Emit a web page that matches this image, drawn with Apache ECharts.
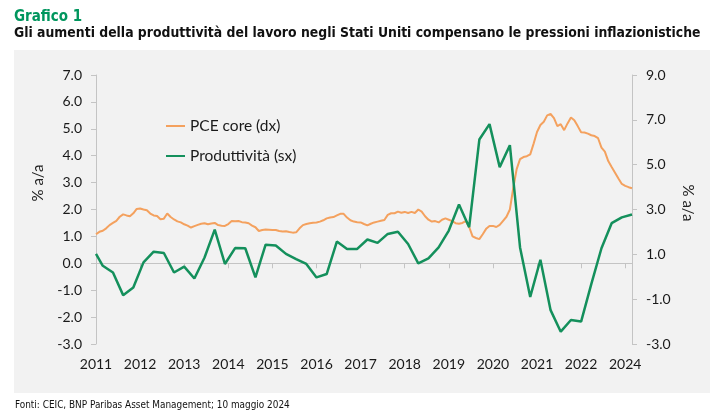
<!DOCTYPE html>
<html>
<head>
<meta charset="utf-8">
<script src="https://cdn.jsdelivr.net/npm/echarts@6/dist/echarts.min.js"></script>
<style>
  html, body { margin: 0; padding: 0; background: #fff; }
  #chart { width: 725px; height: 418px; }
</style>
</head>
<body>
<div id="chart"></div>
<script>
// monthly categories Jan 2011 - Mar 2024
var months = []
for (var y = 2011; y <= 2024; y++) {
    for (var m = 1; m <= 12; m++) {
        if (y === 2024 && m > 3) break
        months.push(y + '-' + (m < 10 ? '0' + m : m))
    }
}

// PCE core, % a/a (left axis)
var pceCore = [
    1.08, 1.17, 1.21, 1.30, 1.42, 1.50, 1.58, 1.73, 1.82, 1.78, 1.75, 1.86,
    2.02, 2.04, 2.00, 1.97, 1.85, 1.78, 1.76, 1.64, 1.66, 1.85, 1.72, 1.63,
    1.56, 1.52, 1.45, 1.40, 1.33, 1.38, 1.43, 1.47, 1.49, 1.45, 1.48, 1.50,
    1.42, 1.40, 1.39, 1.46, 1.57, 1.56, 1.57, 1.53, 1.52, 1.49, 1.40, 1.34,
    1.20, 1.24, 1.26, 1.25, 1.24, 1.24, 1.20, 1.18, 1.19, 1.16, 1.14, 1.15,
    1.30, 1.42, 1.46, 1.49, 1.51, 1.52, 1.55, 1.60, 1.67, 1.70, 1.72, 1.78,
    1.84, 1.84, 1.70, 1.60, 1.55, 1.53, 1.52, 1.46, 1.41, 1.47, 1.52, 1.55,
    1.58, 1.61, 1.80, 1.86, 1.86, 1.92, 1.88, 1.91, 1.87, 1.91, 1.87, 2.00,
    1.92, 1.75, 1.62, 1.55, 1.57, 1.52, 1.62, 1.67, 1.62, 1.57, 1.49, 1.47,
    1.50, 1.57, 1.35, 1.00, 0.94, 0.90, 1.08, 1.28, 1.39, 1.39, 1.35, 1.43,
    1.58, 1.73, 2.00, 2.80, 3.50, 3.87, 3.95, 3.98, 4.05, 4.45, 4.88, 5.14,
    5.26, 5.50, 5.55, 5.40, 5.10, 5.17, 4.95, 5.20, 5.42, 5.32, 5.10, 4.87,
    4.86, 4.82, 4.76, 4.73, 4.65, 4.30, 4.15, 3.80, 3.58, 3.37, 3.15, 2.95,
    2.88, 2.83, 2.79
]

// Produttivita', % a/a (right axis), quarterly
var prodMonths = ['2011-01']
for (var q = 2; q < months.length; q += 3) prodMonths.push(months[q])
var prodValues = [
    1.02, 0.49, 0.19, -0.82, -0.48, 0.64, 1.12, 1.06, 0.19, 0.45, -0.08, 0.86,
    2.10, 0.57, 1.28, 1.27, -0.03, 1.43, 1.39, 1.02, 0.79, 0.57, -0.03, 0.12,
    1.57, 1.24, 1.24, 1.66, 1.51, 1.91, 2.01, 1.46, 0.60, 0.82, 1.31, 2.06,
    3.22, 2.21, 6.12, 6.81, 4.89, 5.87, 1.31, -0.90, 0.76, -1.49, -2.45, -1.93,
    -2.00, -0.33, 1.27, 2.39, 2.65, 2.78
]

var labelFont = 'Lato, "Noto Sans", sans-serif'
var titleFont = '"Liberation Sans Narrow", "DejaVu Sans Condensed", sans-serif'
var axisGray = '#c4c4c4'

var myChart = echarts.init(document.getElementById('chart'))
var option = {
    backgroundColor: '#ffffff',
    animation: false,
    graphic: [
        { type: 'rect', z: -10, shape: { x: 14, y: 50, width: 696, height: 343 }, style: { fill: '#f2f2f2' } },
        { type: 'text', x: 14, y: 17, style: { text: 'Grafico 1', font: 'bold 15px ' + titleFont, fill: '#00965e', verticalAlign: 'middle' } },
        { type: 'text', x: 14, y: 33, scaleX: 0.955, style: { text: 'Gli aumenti della produttività del lavoro negli Stati Uniti compensano le pressioni inflazionistiche', font: 'bold 14.5px ' + titleFont, fill: '#111', verticalAlign: 'middle' } },
        { type: 'text', x: 15, y: 405, scaleX: 0.9, style: { text: 'Fonti: CEIC, BNP Paribas Asset Management; 10 maggio 2024', font: '11px ' + titleFont, fill: '#111', verticalAlign: 'middle' } },
        { type: 'text', x: 38, y: 183, rotation: Math.PI / 2, style: { text: '% a/a', font: '15px ' + labelFont, fill: '#222', align: 'center', verticalAlign: 'middle' } },
        { type: 'text', x: 688, y: 203, rotation: -Math.PI / 2, style: { text: '% a/a', font: '15px ' + labelFont, fill: '#222', align: 'center', verticalAlign: 'middle' } }
    ],
    legend: {
        orient: 'vertical',
        left: 161,
        top: 113,
        itemWidth: 19,
        itemHeight: 2,
        itemGap: 14,
        icon: 'rect',
        textStyle: { fontFamily: labelFont, fontSize: 15.5, color: '#1a1a1a', lineHeight: 16 },
        data: ['PCE core (dx)', 'Produttività (sx)']
    },
    grid: { left: 96, right: 93, top: 75, bottom: 74 },
    xAxis: {
        type: 'category',
        data: months,
        boundaryGap: false,
        axisLine: { lineStyle: { color: axisGray } },
        axisTick: { interval: 12, length: 5, lineStyle: { color: axisGray } },
        axisLabel: {
            interval: 12,
            margin: 13,
            fontFamily: labelFont,
            fontSize: 14,
            color: '#1a1a1a',
            formatter: function (v) { return v.slice(0, 4) }
        }
    },
    yAxis: [
        {
            type: 'value',
            min: -3,
            max: 7,
            interval: 1,
            splitLine: { show: false },
            axisLine: { show: true, lineStyle: { color: axisGray } },
            axisTick: { show: true, length: 5, lineStyle: { color: axisGray } },
            axisLabel: { margin: 14, fontFamily: labelFont, fontSize: 14, color: '#1a1a1a', formatter: function (v) { return v.toFixed(1) } }
        },
        {
            type: 'value',
            min: -3,
            max: 9,
            interval: 2,
            position: 'right',
            splitLine: { show: false },
            axisLine: { show: true, lineStyle: { color: axisGray } },
            axisTick: { show: true, length: 5, lineStyle: { color: axisGray } },
            axisLabel: { margin: 14, fontFamily: labelFont, fontSize: 14, color: '#1a1a1a', formatter: function (v) { return v.toFixed(1) } }
        }
    ],
    series: [
        {
            name: 'PCE core (dx)',
            type: 'line',
            yAxisIndex: 0,
            data: pceCore,
            showSymbol: false,
            symbol: 'none',
            color: '#f4a15e',
            lineStyle: { width: 2, color: '#f4a15e' }
        },
        {
            name: 'Produttività (sx)',
            type: 'line',
            yAxisIndex: 1,
            data: prodMonths.map(function (m, i) { return [m, prodValues[i]] }),
            showSymbol: false,
            symbol: 'none',
            color: '#14905c',
            lineStyle: { width: 2.5, color: '#14905c' }
        }
    ]
}
myChart.setOption(option)
</script>
</body>
</html>
